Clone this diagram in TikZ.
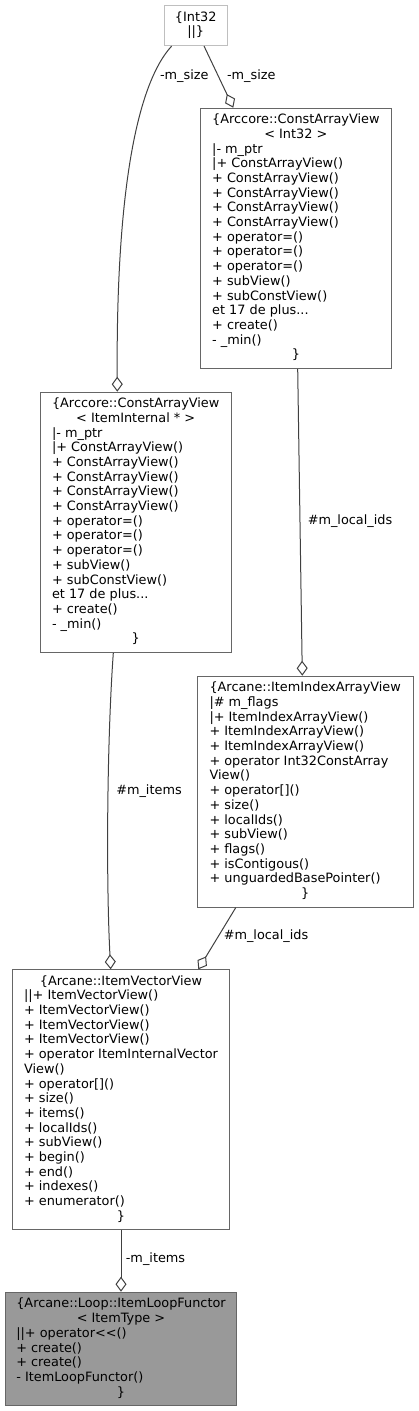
\documentclass[tikz,border=0pt]{standalone}
\usepackage{fontspec}
\setmainfont{DejaVu Sans}
\usetikzlibrary{arrows.meta,calc}
\definecolor{boxline}{HTML}{666666}
\definecolor{edgeline}{HTML}{404040}
\definecolor{lightline}{HTML}{BFBFBF}
\definecolor{hlfill}{HTML}{999999}
\newcommand{\mcc}[1]{\multicolumn{1}{@{}c@{}}{#1}}
\begin{document}
\begin{tikzpicture}[x=1pt,y=-1pt,
  cls/.style={draw=boxline, line width=1pt, fill=white, inner sep=0pt, anchor=north west,
    font=\fontsize{12.85}{14.7}\selectfont, text=black},
  lbl/.style={inner sep=0pt, font=\fontsize{12.85}{14.7}\selectfont, text=black},
  agg/.style={draw=edgeline, line width=1pt, -{Diamond[open,length=15pt,width=11pt]}}]
\useasboundingbox (0,0) rectangle (418,1411);

\node[cls, draw=lightline, minimum width=63pt, minimum height=40pt] (int32) at (163.7,5)
  {\begin{tabular}{@{}l@{}}\mcc{\{Int32}\\ \mcc{||\}}\end{tabular}};

\node[cls, minimum width=190.7pt, minimum height=260.3pt] (cavi32) at (200,107.7)
  {\begin{tabular}{@{}l@{}}
  \mcc{\{Arccore::ConstArrayView}\\
  \mcc{< Int32 >}\\
  |- m\_ptr\\
  |+ ConstArrayView()\\
  + ConstArrayView()\\
  + ConstArrayView()\\
  + ConstArrayView()\\
  + ConstArrayView()\\
  + operator=()\\
  + operator=()\\
  + operator=()\\
  + subView()\\
  + subConstView()\\
  et 17 de plus...\\
  + create()\\
  - \_min()\\
  \mcc{\}}
  \end{tabular}};

\node[cls, minimum width=191pt, minimum height=260.3pt] (cavii) at (39.7,391.7)
  {\begin{tabular}{@{}l@{}}
  \mcc{\{Arccore::ConstArrayView}\\
  \mcc{< ItemInternal * >}\\
  |- m\_ptr\\
  |+ ConstArrayView()\\
  + ConstArrayView()\\
  + ConstArrayView()\\
  + ConstArrayView()\\
  + ConstArrayView()\\
  + operator=()\\
  + operator=()\\
  + operator=()\\
  + subView()\\
  + subConstView()\\
  et 17 de plus...\\
  + create()\\
  - \_min()\\
  \mcc{\}}
  \end{tabular}};

\node[cls, minimum width=216pt, minimum height=231pt] (iiav) at (196.7,675.7)
  {\begin{tabular}{@{}l@{}}
  \mcc{\{Arcane::ItemIndexArrayView}\\
  |\# m\_flags\\
  |+ ItemIndexArrayView()\\
  + ItemIndexArrayView()\\
  + ItemIndexArrayView()\\
  + operator Int32ConstArray\\
  View()\\
  + operator[]()\\
  + size()\\
  + localIds()\\
  + subView()\\
  + flags()\\
  + isContigous()\\
  + unguardedBasePointer()\\
  \mcc{\}}
  \end{tabular}};

\node[cls, minimum width=217.6pt, minimum height=260pt] (ivv) at (11.7,969.3)
  {\begin{tabular}{@{}l@{}}
  \mcc{\{Arcane::ItemVectorView}\\
  ||+ ItemVectorView()\\
  + ItemVectorView()\\
  + ItemVectorView()\\
  + ItemVectorView()\\
  + operator ItemInternalVector\\
  View()\\
  + operator[]()\\
  + size()\\
  + items()\\
  + localIds()\\
  + subView()\\
  + begin()\\
  + end()\\
  + indexes()\\
  + enumerator()\\
  \mcc{\}}
  \end{tabular}};

\node[cls, fill=hlfill, minimum width=231pt, minimum height=113.7pt] (ilf) at (5,1291.7)
  {\begin{tabular}{@{}l@{}}
  \mcc{\{Arcane::Loop::ItemLoopFunctor}\\
  \mcc{< ItemType >}\\
  ||+ operator<{}<()\\
  + create()\\
  + create()\\
  - ItemLoopFunctor()\\
  \mcc{\}}
  \end{tabular}};

% connectors
\draw[agg] ($(int32.south west)+(8,0)$) .. controls ($(int32.south west)+(-28.7,40)$) and ($(cavii.north west)+(76.3,-191.7)$) .. ($(cavii.north west)+(77.6,0)$);
\draw[agg] ($(int32.south west)+(40.3,0)$) -- ($(cavi32.north west)+(33.3,0)$);
\draw[agg] ($(cavi32.south west)+(97.7,0)$) -- ($(iiav.north west)+(105.6,0)$);
\draw[agg] ($(cavii.south west)+(73.6,0)$) .. controls ($(cavii.south west)+(67.3,88)$) and ($(ivv.north west)+(94.3,-89.3)$) .. ($(ivv.north west)+(99,0)$);
\draw[agg] ($(iiav.south west)+(39,0)$) -- ($(ivv.north west)+(186.6,0)$);
\draw[agg] (ivv.south) -- (ilf.north);

% labels
\node[lbl] (l1) at (184.3,76) {-m\_size};
\node[lbl] (l2) at (251.3,76) {-m\_size};
\node[lbl] (l3) at (350,520.7) {\#m\_local\_ids};
\node[lbl] (l4) at (149,790.7) {\#m\_items};
\node[lbl] (l5) at (266,936) {\#m\_local\_ids};
\node[lbl] (l6) at (155.5,1259.3) {-m\_items};
\end{tikzpicture}
\end{document}
